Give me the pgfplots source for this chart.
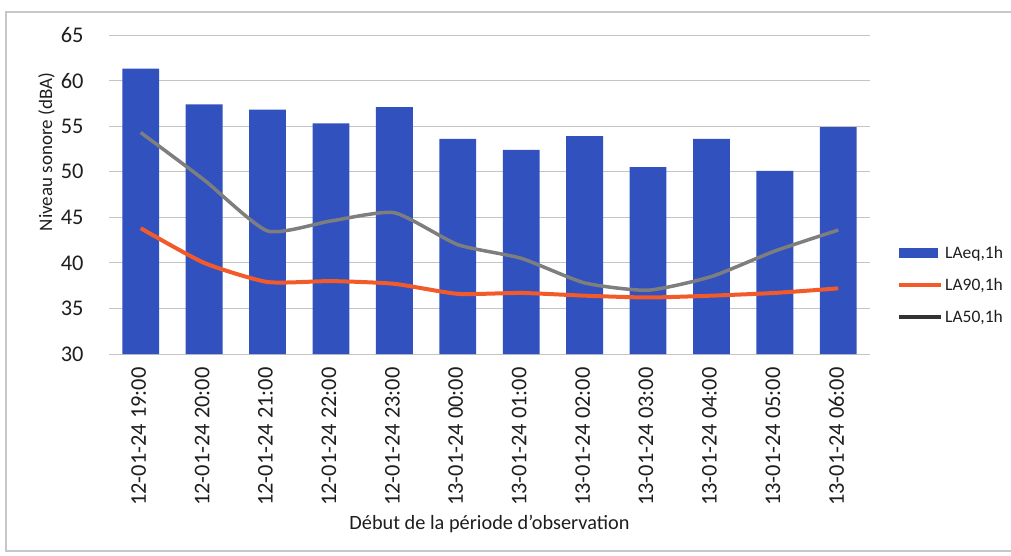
\documentclass[border=0pt]{standalone}
\usepackage{fontspec}
\setmainfont{Carlito}
\usepackage{pgfplots}
\pgfplotsset{compat=1.18}
\definecolor{barblue}{HTML}{3151BF}
\definecolor{lared}{HTML}{F25A2A}
\definecolor{lagray}{HTML}{7E7E7E}
\definecolor{gridc}{HTML}{C4C4C4}
\definecolor{txt}{HTML}{1E1E1E}
\begin{document}
\begin{tikzpicture}[x=1pt,y=1pt]
\path[use as bounding box] (0,0) rectangle (1011,555);
\draw[black!22, line width=1.2pt] (1011,543) -- (6,543) -- (6,4) -- (1011,4);
\begin{axis}[
  at={(109pt,201pt)}, anchor=south west,
  scale only axis, width=761pt, height=319pt,
  xmin=-0.5, xmax=11.5, ymin=30, ymax=65,
  ytick={30,35,...,65},
  xtick={0,...,11},
  xticklabels={12-01-24 19:00,12-01-24 20:00,12-01-24 21:00,12-01-24 22:00,12-01-24 23:00,13-01-24 00:00,13-01-24 01:00,13-01-24 02:00,13-01-24 03:00,13-01-24 04:00,13-01-24 05:00,13-01-24 06:00},
  /pgf/number format/assume math mode=true,
  axis line style={draw=none}, major tick length=0pt,
  ymajorgrids, grid style={gridc, line width=1pt},
  ticklabel style={font=\fontsize{22.4}{26}\selectfont, text=txt},
  xticklabel style={rotate=90, anchor=east, xshift=-10pt, yshift=2pt},
  yticklabel style={xshift=-22pt},
  xlabel={Début de la période d’observation},
  xlabel style={font=\fontsize{20.3}{24}\selectfont, text=txt, at={(axis description cs:0.5,-0.533)}, anchor=center},
  ylabel={Niveau sonore (dBA)},
  ylabel style={font=\fontsize{19}{22}\selectfont, text=txt, at={(axis description cs:-0.082,0.633)}, anchor=center},
  legend style={at={(axis description cs:1.0355,0.216)}, anchor=west, draw=none, fill=none, inner sep=0pt,
    font=\fontsize{17.5}{20}\selectfont, row sep=14pt, text=txt},
  legend cell align=left,
]
\addplot[ybar, bar width=0.58, fill=barblue, draw=none,
  legend image code/.code={\fill[barblue] (0pt,-5pt) rectangle (39pt,5pt);}]
  coordinates {(0,61.3) (1,57.4) (2,56.8) (3,55.3) (4,57.1) (5,53.6) (6,52.4) (7,53.9) (8,50.5) (9,53.6) (10,50.1) (11,54.9)};
\addlegendentry{LAeq,1h}
\addplot[lared, line width=4pt, smooth, tension=0.35, mark=none,
  legend image code/.code={\draw[lared, line width=4pt] (0pt,0pt) -- (42pt,0pt);}]
  coordinates {(0,43.8) (1,40.0) (2,37.9) (3,38.0) (4,37.7) (5,36.6) (6,36.7) (7,36.4) (8,36.2) (9,36.4) (10,36.7) (11,37.2)};
\addlegendentry{LA90,1h}
\addplot[lagray, line width=3.5pt, smooth, tension=0.35, mark=none,
  legend image code/.code={\draw[black!80, line width=4pt] (0pt,0pt) -- (42pt,0pt);}]
  coordinates {(0,54.3) (1,49.1) (2,43.5) (3,44.6) (4,45.5) (5,42.0) (6,40.5) (7,37.8) (8,37.0) (9,38.5) (10,41.3) (11,43.6)};
\addlegendentry{LA50,1h}
\end{axis}
\end{tikzpicture}
\end{document}
